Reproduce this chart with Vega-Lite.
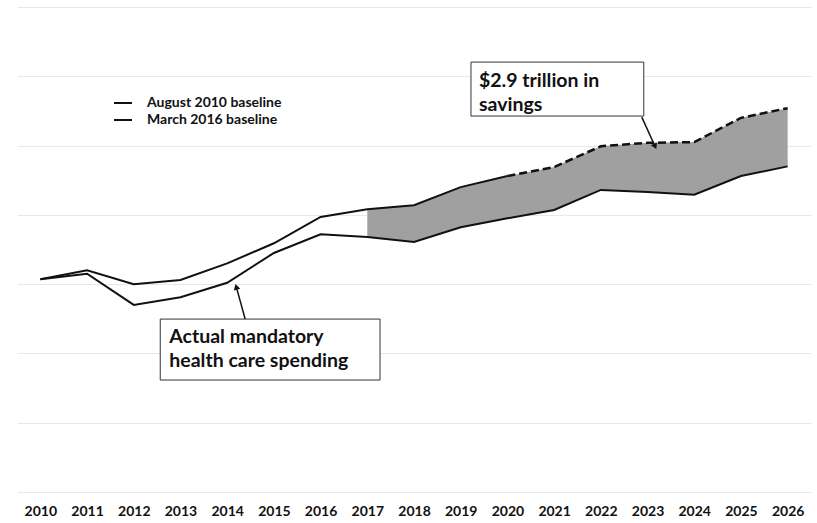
{
  "$schema": "https://vega.github.io/schema/vega-lite/v6.json",
  "width": 794,
  "height": 485,
  "autosize": "none",
  "padding": {"left": 17, "top": 7, "right": 6, "bottom": 31},
  "background": "white",
  "config": {
    "view": {"stroke": null},
    "font": "Lato",
    "legend": {"padding": 0},
    "axisX": {
      "format": "d", "grid": false, "ticks": false, "domain": false,
      "labelFont": "Lato", "labelFontWeight": "bold", "labelFontSize": 14,
      "labelColor": "#111", "labelPadding": 12, "labelFlush": false, "labelOverlap": false
    },
    "axisY": {
      "labels": false, "ticks": false,
      "domain": false, "grid": true, "gridColor": "#e8e8e8", "gridWidth": 1
    }
  },
  "datasets": {
    "spending": [
      {"year": 2010, "series": "August 2010 baseline", "value": 3.07},
      {"year": 2011, "series": "August 2010 baseline", "value": 3.2},
      {"year": 2012, "series": "August 2010 baseline", "value": 3.0},
      {"year": 2013, "series": "August 2010 baseline", "value": 3.06},
      {"year": 2014, "series": "August 2010 baseline", "value": 3.3},
      {"year": 2015, "series": "August 2010 baseline", "value": 3.59},
      {"year": 2016, "series": "August 2010 baseline", "value": 3.97},
      {"year": 2017, "series": "August 2010 baseline", "value": 4.08},
      {"year": 2018, "series": "August 2010 baseline", "value": 4.14},
      {"year": 2019, "series": "August 2010 baseline", "value": 4.4},
      {"year": 2020, "series": "August 2010 baseline", "value": 4.56},
      {"year": 2021, "series": "August 2010 baseline", "value": 4.69},
      {"year": 2022, "series": "August 2010 baseline", "value": 4.99},
      {"year": 2023, "series": "August 2010 baseline", "value": 5.04},
      {"year": 2024, "series": "August 2010 baseline", "value": 5.05},
      {"year": 2025, "series": "August 2010 baseline", "value": 5.4},
      {"year": 2026, "series": "August 2010 baseline", "value": 5.54},
      {"year": 2010, "series": "March 2016 baseline", "value": 3.07},
      {"year": 2011, "series": "March 2016 baseline", "value": 3.15},
      {"year": 2012, "series": "March 2016 baseline", "value": 2.7},
      {"year": 2013, "series": "March 2016 baseline", "value": 2.81},
      {"year": 2014, "series": "March 2016 baseline", "value": 3.02},
      {"year": 2015, "series": "March 2016 baseline", "value": 3.45},
      {"year": 2016, "series": "March 2016 baseline", "value": 3.72},
      {"year": 2017, "series": "March 2016 baseline", "value": 3.68},
      {"year": 2018, "series": "March 2016 baseline", "value": 3.61},
      {"year": 2019, "series": "March 2016 baseline", "value": 3.82},
      {"year": 2020, "series": "March 2016 baseline", "value": 3.95},
      {"year": 2021, "series": "March 2016 baseline", "value": 4.07},
      {"year": 2022, "series": "March 2016 baseline", "value": 4.36},
      {"year": 2023, "series": "March 2016 baseline", "value": 4.33},
      {"year": 2024, "series": "March 2016 baseline", "value": 4.29},
      {"year": 2025, "series": "March 2016 baseline", "value": 4.56},
      {"year": 2026, "series": "March 2016 baseline", "value": 4.7}
    ],
    "boxes": [
      {"x1": 2019.22, "x2": 2022.92, "y1": 6.205, "y2": 5.426},
      {"x1": 2012.567, "x2": 2017.273, "y1": 2.496, "y2": 1.616}
    ],
    "labels": [
      {"x": 2019.39, "y": 5.84, "label": "$2.9 trillion in\nsavings"},
      {"x": 2012.76, "y": 2.15, "label": "Actual mandatory\nhealth care spending"}
    ],
    "arrows": [
      {"x1": 2014.385, "y1": 2.496, "x2": 2014.195, "y2": 2.96, "hx": 2014.195, "hy": 2.96, "angle": 344.5},
      {"x1": 2022.877, "y1": 5.411, "x2": 2023.162, "y2": 4.987, "hx": 2023.162, "hy": 4.987, "angle": 155.6}
    ]
  },
  "layer": [
    {
      "data": {"name": "spending"},
      "transform": [
        {"filter": "datum.year >= 2017"},
        {"pivot": "series", "value": "value", "groupby": ["year"]}
      ],
      "mark": {"type": "area", "color": "#a0a0a0", "opacity": 1},
      "encoding": {
        "x": {
          "field": "year", "type": "quantitative", "title": null,
          "scale": {"domain": [2009.5, 2026.5], "nice": false, "zero": false},
          "axis": {"values": [2010,2011,2012,2013,2014,2015,2016,2017,2018,2019,2020,2021,2022,2023,2024,2025,2026]}
        },
        "y": {
          "field": "August 2010 baseline", "type": "quantitative", "title": null,
          "scale": {"domain": [0, 7], "nice": false, "zero": false},
          "axis": {"values": [0,1,2,3,4,5,6,7]}
        },
        "y2": {"field": "March 2016 baseline"}
      }
    },
    {
      "data": {"name": "spending"},
      "transform": [
        {"filter": "datum.series == 'March 2016 baseline' || datum.year <= 2020"}
      ],
      "mark": {"type": "line", "strokeWidth": 2},
      "encoding": {
        "x": {"field": "year", "type": "quantitative", "title": null},
        "y": {"field": "value", "type": "quantitative", "title": null},
        "color": {
          "field": "series", "type": "nominal",
          "scale": {"domain": ["August 2010 baseline", "March 2016 baseline"], "range": ["#111111", "#111111"]},
          "legend": {
            "title": null, "orient": "none", "legendX": 96, "legendY": 86,
            "symbolType": "stroke", "symbolSize": 324, "symbolStrokeWidth": 2,
            "labelFont": "Lato", "labelFontWeight": "bold", "labelFontSize": 14,
            "labelColor": "#111", "labelOffset": 14, "rowPadding": 0
          }
        }
      }
    },
    {
      "data": {"name": "spending"},
      "transform": [
        {"filter": "datum.series == 'August 2010 baseline' && datum.year >= 2020"}
      ],
      "mark": {"type": "line", "strokeWidth": 2.5, "color": "#111111", "strokeDash": [8, 4]},
      "encoding": {
        "x": {"field": "year", "type": "quantitative", "title": null},
        "y": {"field": "value", "type": "quantitative", "title": null}
      }
    },
    {
      "data": {"name": "boxes"},
      "mark": {"type": "rect", "fill": "white", "stroke": "#333333", "strokeWidth": 1},
      "encoding": {
        "x": {"field": "x1", "type": "quantitative", "title": null},
        "x2": {"field": "x2"},
        "y": {"field": "y1", "type": "quantitative", "title": null},
        "y2": {"field": "y2"}
      }
    },
    {
      "data": {"name": "labels"},
      "mark": {"type": "text", "align": "left", "baseline": "alphabetic", "lineBreak": "\n", "lineHeight": 24, "font": "Lato", "fontWeight": "bold", "fontSize": 19.5, "color": "#111"},
      "encoding": {
        "x": {"field": "x", "type": "quantitative", "title": null},
        "y": {"field": "y", "type": "quantitative", "title": null},
        "text": {"field": "label"}
      }
    },
    {
      "data": {"name": "arrows"},
      "mark": {"type": "rule", "strokeWidth": 1.5, "color": "#111"},
      "encoding": {
        "x": {"field": "x1", "type": "quantitative", "title": null},
        "y": {"field": "y1", "type": "quantitative", "title": null},
        "x2": {"field": "x2"},
        "y2": {"field": "y2"}
      }
    },
    {
      "data": {"name": "arrows"},
      "mark": {"type": "point", "shape": "triangle-up", "filled": true, "size": 45, "color": "#111", "opacity": 1},
      "encoding": {
        "x": {"field": "hx", "type": "quantitative", "title": null},
        "y": {"field": "hy", "type": "quantitative", "title": null},
        "angle": {"field": "angle", "type": "quantitative", "scale": null}
      }
    }
  ]
}
